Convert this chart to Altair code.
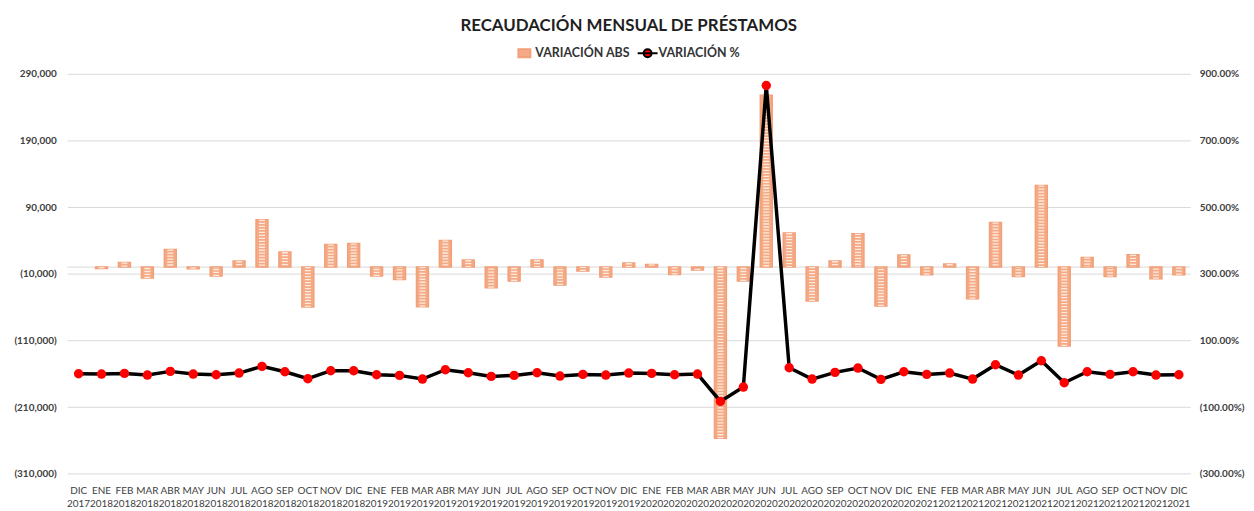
import altair as alt
import pandas as pd

FONT = "Lato"

meses = ["DIC 2017"] + [f"{m} {y}" for y in (2018, 2019, 2020, 2021)
                        for m in ["ENE", "FEB", "MAR", "ABR", "MAY", "JUN",
                                  "JUL", "AGO", "SEP", "OCT", "NOV", "DIC"]]

variacion_abs = [
    None, -2000, 7000, -16500, 26500, -2500, -13500, 9000, 71000, 22500, -60000, 34000, 35500,
    -13500, -18500, -59500, 40000, 10500, -31000, -21000, 10500, -27000, -6000, -15000, 6000,
    4000, -11000, -4500, -257000, -21000, 258000, 51000, -51000, 9000, 50000, -58500, 18000,
    -11500, 4500, -47500, 67000, -14000, 122500, -118500, 14500, -14000, 18500, -17500, -11500,
]

variacion_pct = [
    0.00, -0.01, 0.01, -0.04, 0.07, -0.01, -0.03, 0.02, 0.22, 0.06, -0.15, 0.09, 0.09,
    -0.03, -0.05, -0.16, 0.12, 0.03, -0.08, -0.05, 0.03, -0.07, -0.02, -0.04, 0.02,
    0.01, -0.03, -0.01, -0.83, -0.40, 8.65, 0.18, -0.16, 0.04, 0.17, -0.17, 0.06,
    -0.02, 0.02, -0.16, 0.27, -0.04, 0.39, -0.27, 0.06, -0.02, 0.06, -0.04, -0.03,
]

left_ticks = [-310000, -210000, -110000, -10000, 90000, 190000, 290000]
right_ticks = [-3, -1, 1, 3, 5, 7, 9]

df = pd.DataFrame({"mes": meses, "abs": variacion_abs, "pct": variacion_pct})
zero_df = pd.DataFrame({"z": [0]})

x_enc = alt.X(
    "mes:N", sort=meses,
    scale=alt.Scale(paddingInner=0, paddingOuter=0),
    axis=alt.Axis(title=None, labelAngle=0, labelExpr="split(datum.label, ' ')",
                  domain=False, ticks=False, grid=False, labelPadding=12,
                  labelFont=FONT, labelFontSize=10, labelColor="#404040",
                  labelLineHeight=13.5),
)

left_scale = alt.Scale(domain=[-310000, 290000], nice=False, zero=False)
left_axis = alt.Axis(values=left_ticks, format="(,.0f", title=None, domain=False,
                     ticks=False, grid=True, gridColor="#D9D9D9", gridWidth=1,
                     labelPadding=11, labelFont=FONT, labelFontSize=10,
                     labelFontWeight="bold", labelColor="#404040")

right_scale = alt.Scale(domain=[-3, 9], nice=False, zero=False)
right_axis = alt.Axis(orient="right", values=right_ticks, format="(.2%", title=None,
                      domain=False, ticks=False, grid=False, labelPadding=9,
                      labelFont=FONT, labelFontSize=10, labelFontWeight="bold",
                      labelColor="#404040")

legend_common = dict(orient="none", legendY=-31.7, direction="horizontal", title=None,
                     labelFont=FONT, labelFontSize=12.5, labelFontWeight="bold",
                     labelColor="#333333", symbolSize=400, labelOffset=0, padding=0)

legend_abs = alt.Legend(legendX=449, symbolType="M-0.6,-0.4H0.6V0.4H-0.6Z",
                        symbolStrokeColor="#F2A07A", symbolStrokeWidth=2, **legend_common)
legend_pct = alt.Legend(legendX=573,
                        symbolType="M-1,0H1M-0.4,0A0.4,0.4,0,1,1,0.4,0A0.4,0.4,0,1,1,-0.4,0Z",
                        symbolStrokeColor="#000000", symbolStrokeWidth=2, **legend_common)

zero_rule = alt.Chart(zero_df).mark_rule(color="#D9D9D9", strokeWidth=1).encode(
    y=alt.Y("z:Q", scale=left_scale, axis=left_axis)
)

bars = alt.Chart(df).transform_calculate(serie="'VARIACIÓN ABS'").mark_bar(
    width=12, stroke="#F2A07A", strokeWidth=1.5, opacity=1
).encode(
    x=x_enc,
    y=alt.Y("abs:Q", scale=left_scale, axis=left_axis),
    color=alt.Color("serie:N",
                    scale=alt.Scale(domain=["VARIACIÓN ABS"], range=["#F4AA84"]),
                    legend=legend_abs),
)

stripes = alt.Chart(df).mark_rule(color="white", strokeWidth=6, strokeDash=[1.3, 1.7],
                                  opacity=0.75).encode(
    x=x_enc,
    y=alt.Y("abs:Q", scale=left_scale, axis=left_axis),
    y2=alt.Y2Datum(0),
)

line = alt.Chart(df).mark_line(color="black", strokeWidth=3.5).encode(
    x=x_enc,
    y=alt.Y("pct:Q", scale=right_scale, axis=right_axis),
)

points = alt.Chart(df).transform_calculate(serie2="'VARIACIÓN %'").mark_circle(
    size=90, opacity=1
).encode(
    x=x_enc,
    y=alt.Y("pct:Q", scale=right_scale, axis=right_axis),
    fill=alt.Fill("serie2:N",
                  scale=alt.Scale(domain=["VARIACIÓN %"], range=["#FF0000"]),
                  legend=legend_pct),
)

left = alt.layer(zero_rule, bars, stripes)
right = alt.layer(line, points)

chart = alt.layer(left, right).resolve_scale(y="independent").properties(
    width=1130, height=402.3,
    autosize=alt.AutoSizeParams(type="none"),
    padding={"left": 59.5, "top": 64.7, "right": 56, "bottom": 34},
    title=alt.TitleParams("RECAUDACIÓN MENSUAL DE PRÉSTAMOS", anchor="middle", frame="group",
                          fontSize=17, font=FONT, fontWeight="bold", color="#1F1F1F",
                          offset=7),
).configure_view(stroke=None)

chart.save("out.html", embed_options={"renderer": "svg", "actions": False})
